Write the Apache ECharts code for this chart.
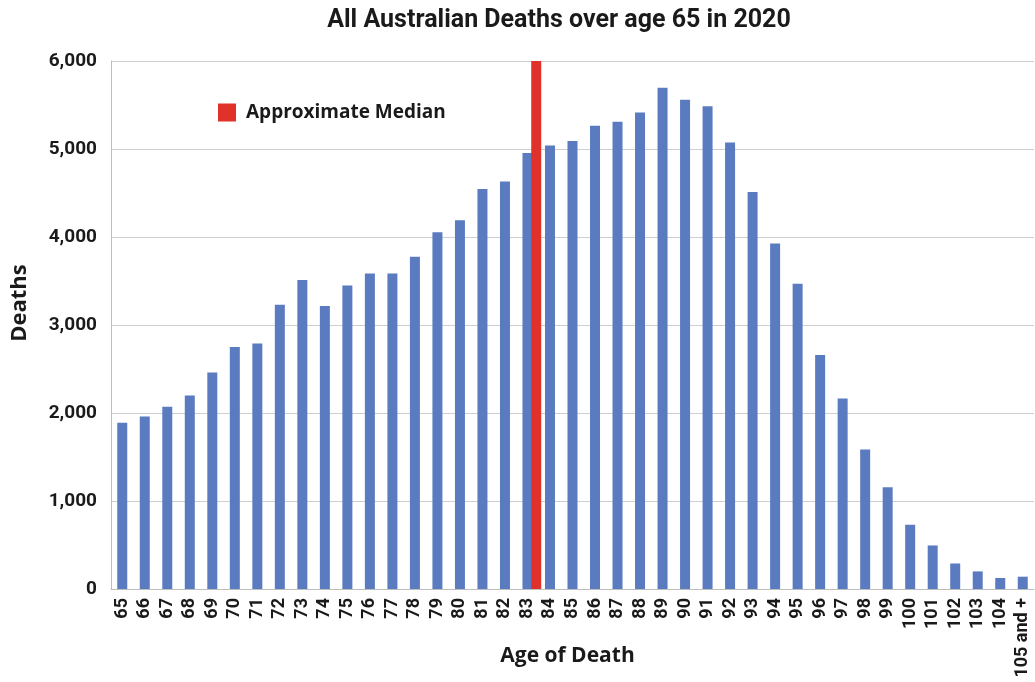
<!DOCTYPE html>
<html>
<head>
<meta charset="utf-8">
<style>
  html, body { margin: 0; padding: 0; background: #fff; }
  #chart { width: 1035px; height: 682px; }
</style>
<script src="https://cdn.jsdelivr.net/npm/echarts@6/dist/echarts.min.js"></script>
</head>
<body>
<div id="chart"></div>
<script>
// Age groups at death (years)
const ages = ['65','66','67','68','69','70','71','72','73','74','75','76','77','78','79',
  '80','81','82','83','84','85','86','87','88','89','90','91','92','93','94','95','96',
  '97','98','99','100','101','102','103','104','105 and +'];

// Number of deaths at each age, Australia 2020
const deaths = [1890, 1960, 2070, 2200, 2460, 2750, 2790, 3230, 3510, 3215, 3450, 3585,
  3585, 3775, 4055, 4190, 4545, 4630, 4955, 5040, 5090, 5265, 5310, 5415, 5695, 5560,
  5485, 5075, 4510, 3925, 3470, 2660, 2165, 1585, 1155, 730, 495, 290, 200, 125, 140];

// Marker for the approximate median age
const medianAge = '83';
const medianHeight = 6000;
const medianValues = ages.map(a => (a === medianAge ? medianHeight : 0));
const spacerValues = ages.map(() => 0);

const yTicks = { min: 0, max: 6000, interval: 1000 };

const FONT = 'Roboto, "Open Sans", sans-serif';
const INK = '#1a1a1a';

const chart = echarts.init(document.getElementById('chart'), null, { renderer: 'canvas' });
chart.setOption({
  animation: false,
  backgroundColor: '#ffffff',
  title: {
    text: 'All Australian Deaths over age 65 in 2020',
    left: 554,
    textAlign: 'center',
    top: 3,
    textStyle: { fontFamily: '"Liberation Sans Narrow", Roboto, sans-serif', fontWeight: 'bold', fontSize: 25, color: INK }
  },
  legend: {
    data: ['Approximate Median'],
    left: 213,
    top: 98,
    icon: 'rect',
    itemWidth: 18,
    itemHeight: 18,
    textStyle: { fontFamily: '"Open Sans", sans-serif', fontWeight: 'bold', fontSize: 19, color: INK, padding: [0, 0, 0, 5] }
  },
  grid: { left: 111, right: 1, top: 61, bottom: 93, containLabel: false, outerBoundsMode: 'none' },
  xAxis: [
    {
      type: 'category',
      data: ages,
      name: 'Age of Death',
      nameLocation: 'middle',
      nameGap: 57,
      nameMoveOverlap: false,
      nameTextStyle: { fontFamily: '"Open Sans", sans-serif', fontWeight: 'bold', fontSize: 21, color: INK, padding: [0, 10, 0, 0] },
      axisLine: { lineStyle: { color: '#bdbdbd', width: 1 } },
      axisTick: { show: false },
      axisLabel: { rotate: 90, interval: 0, margin: 9, fontFamily: FONT, fontWeight: 'bold', fontSize: 18, color: INK }
    },
    {
      type: 'category',
      data: ages,
      show: false
    }
  ],
  yAxis: {
    type: 'value',
    min: yTicks.min,
    max: yTicks.max,
    interval: yTicks.interval,
    name: 'Deaths',
    nameLocation: 'middle',
    nameGap: 80,
    nameMoveOverlap: false,
    nameTextStyle: { fontFamily: '"Open Sans", sans-serif', fontWeight: 'bold', fontSize: 22, color: INK, padding: [0, 0, 0, 44] },
    axisLine: { show: true, lineStyle: { color: '#bdbdbd', width: 1 } },
    axisTick: { show: false },
    splitLine: { lineStyle: { color: '#cfcfcf', width: 1 } },
    axisLabel: {
      margin: 14,
      fontFamily: FONT, fontWeight: 'bold', fontSize: 19, color: INK,
      formatter: v => v.toLocaleString('en-US')
    }
  },
  series: [
    {
      name: 'Deaths',
      type: 'bar',
      data: deaths,
      barWidth: 10,
      itemStyle: { color: '#5b7bc0' }
    },
    {
      // zero-height companion bar so the median marker sits just right of its age bar
      name: 'spacer',
      type: 'bar',
      xAxisIndex: 1,
      data: spacerValues,
      barWidth: 10,
      barGap: '75%',
      itemStyle: { color: 'rgba(0,0,0,0)' }
    },
    {
      name: 'Approximate Median',
      type: 'bar',
      xAxisIndex: 1,
      data: medianValues,
      barWidth: 10,
      barGap: '75%',
      z: 3,
      itemStyle: { color: '#e0312b' }
    }
  ]
});
</script>
</body>
</html>
